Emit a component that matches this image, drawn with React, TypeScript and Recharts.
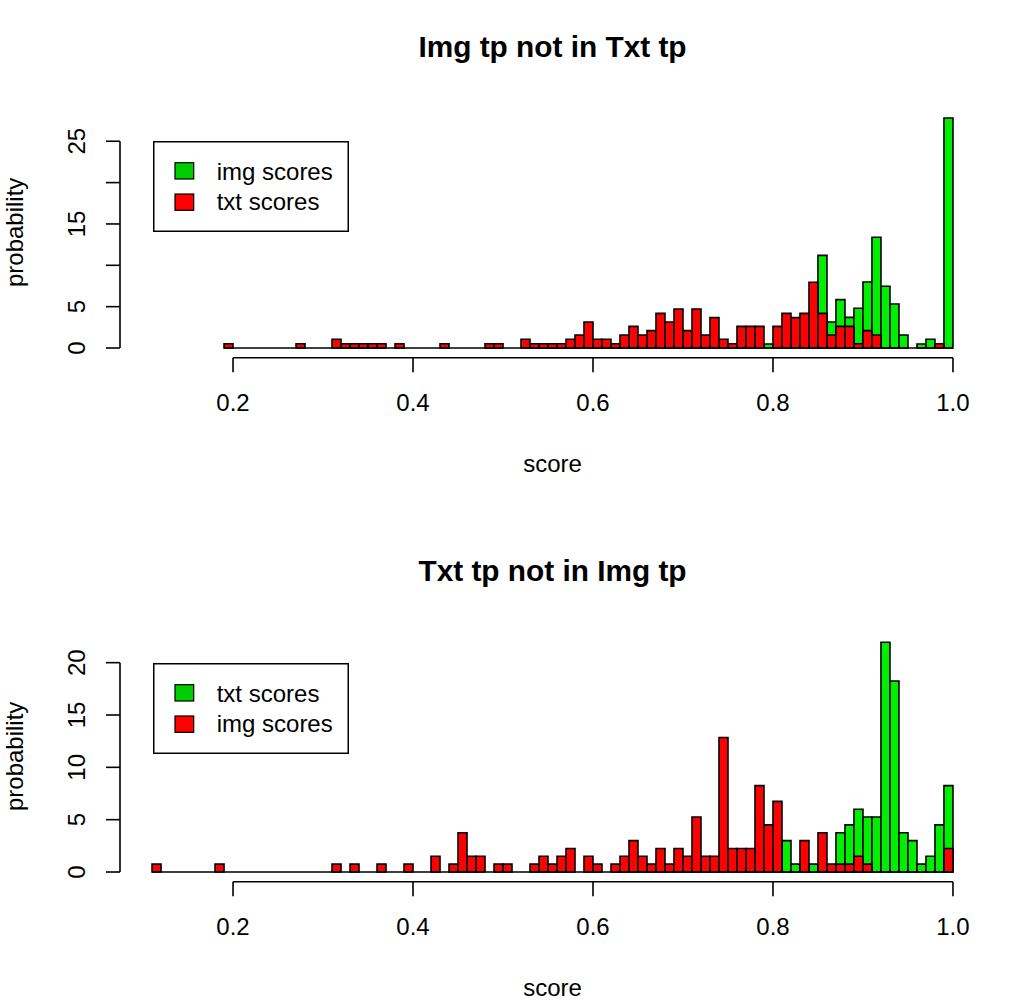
import { BarChart, Bar, XAxis, YAxis, ReferenceLine, Legend } from "recharts";

const FONT = '"Liberation Sans", Arial, Helvetica, sans-serif';

// left edge of every 0.01 wide histogram bin
const bins = [
  0.11, 0.12, 0.13, 0.14, 0.15, 0.16, 0.17, 0.18, 0.19, 0.2,
  0.21, 0.22, 0.23, 0.24, 0.25, 0.26, 0.27, 0.28, 0.29, 0.3,
  0.31, 0.32, 0.33, 0.34, 0.35, 0.36, 0.37, 0.38, 0.39, 0.4,
  0.41, 0.42, 0.43, 0.44, 0.45, 0.46, 0.47, 0.48, 0.49, 0.5,
  0.51, 0.52, 0.53, 0.54, 0.55, 0.56, 0.57, 0.58, 0.59, 0.6,
  0.61, 0.62, 0.63, 0.64, 0.65, 0.66, 0.67, 0.68, 0.69, 0.7,
  0.71, 0.72, 0.73, 0.74, 0.75, 0.76, 0.77, 0.78, 0.79, 0.8,
  0.81, 0.82, 0.83, 0.84, 0.85, 0.86, 0.87, 0.88, 0.89, 0.9,
  0.91, 0.92, 0.93, 0.94, 0.95, 0.96, 0.97, 0.98, 0.99,
];

// top panel: Img tp not in Txt tp
const topImgScores = [
  0, 0, 0, 0, 0, 0, 0, 0, 0, 0,
  0, 0, 0, 0, 0, 0, 0, 0, 0, 0,
  0, 0, 0, 0, 0, 0, 0, 0, 0, 0,
  0, 0, 0, 0, 0, 0, 0, 0, 0, 0,
  0, 0, 0, 0, 0, 0, 0, 0, 0, 0,
  0, 0, 0, 0, 0, 0, 0, 0, 0, 0,
  0, 0, 0, 0, 0, 0, 0, 0, 0.48, 0,
  0, 0, 0, 0, 11.2, 3.15, 5.85, 3.71, 4.8, 7.98,
  13.39, 7.46, 5.32, 1.57, 0, 0.48, 1.05, 0, 27.82,
];
const topTxtScores = [
  0, 0, 0, 0, 0, 0, 0, 0, 0.52, 0,
  0, 0, 0, 0, 0, 0, 0.52, 0, 0, 0,
  1.05, 0.52, 0.52, 0.52, 0.52, 0.52, 0, 0.52, 0, 0,
  0, 0, 0.52, 0, 0, 0, 0, 0.52, 0.52, 0,
  0, 1.05, 0.52, 0.52, 0.52, 0.52, 1.05, 1.57, 3.14, 1.05,
  1.05, 0.52, 1.57, 2.62, 1.57, 2.1, 4.19, 3.14, 4.72, 2.1,
  4.72, 1.57, 3.67, 1.05, 0.52, 2.62, 2.62, 2.62, 0, 2.62,
  4.19, 3.67, 4.19, 7.95, 4.19, 1.57, 2.62, 2.62, 0.52, 2.1,
  1.57, 0, 0, 0, 0, 0, 0, 0.52, 0,
];

// bottom panel: Txt tp not in Img tp
const bottomTxtScores = [
  0, 0, 0, 0, 0, 0, 0, 0, 0, 0,
  0, 0, 0, 0, 0, 0, 0, 0, 0, 0,
  0, 0, 0, 0, 0, 0, 0, 0, 0, 0,
  0, 0, 0, 0, 0, 0, 0, 0, 0, 0,
  0, 0, 0, 0, 0, 0, 0, 0, 0, 0,
  0, 0, 0, 0, 0, 0, 0, 0, 0, 0,
  0, 0, 0, 0, 0, 0, 0, 0, 0, 0,
  3.0, 0.75, 0, 0.75, 0, 0, 3.75, 4.5, 6.0, 5.25,
  5.25, 21.95, 18.25, 3.75, 3.0, 0.75, 1.5, 4.5, 8.25,
];
const bottomImgScores = [
  0.75, 0, 0, 0, 0, 0, 0, 0.75, 0, 0,
  0, 0, 0, 0, 0, 0, 0, 0, 0, 0,
  0.75, 0, 0.75, 0, 0, 0.75, 0, 0, 0.75, 0,
  0, 1.5, 0, 0.75, 3.75, 1.5, 1.5, 0, 0.75, 0.75,
  0, 0, 0.75, 1.5, 0.75, 1.5, 2.25, 0, 1.5, 0.75,
  0, 0.75, 1.5, 3.0, 1.5, 0.75, 2.25, 0.75, 2.25, 1.5,
  5.25, 1.5, 1.5, 12.85, 2.25, 2.25, 2.25, 8.25, 4.5, 6.75,
  0, 0, 3.0, 0, 3.75, 0.75, 0.75, 0.75, 1.5, 0.75,
  0, 0, 0, 0, 0, 0, 0, 0, 2.25,
];

const xTicks = [0.2, 0.4, 0.6, 0.8, 1.0];
const topYTicks = [0, 5, 10, 15, 20, 25];
const topYLabels = ["0", "5", "", "15", "", "25"];
const bottomYTicks = [0, 5, 10, 15, 20];
const bottomYLabels = ["0", "5", "10", "15", "20"];

const X_LIM = [0.11, 1.0];
const CHART_W = 1024;
const CHART_H = 500;
const AXIS_W = 120;
const RIGHT = 39;
const TOP = 96;
const X_AXIS_H = 142.3;
const LW = 1.6;

const BAR_GREEN = "#00ee00";
const KEY_GREEN = "#00cd00";
const RED = "#ff0000";

const makeYTick = (ticks: number[], labels: string[]) => (props: any) => {
  const { x, y, payload } = props;
  const label = labels[ticks.indexOf(payload.value)] ?? "";
  return (
    <text
      x={x}
      y={y}
      transform={`rotate(-90 ${x} ${y})`}
      textAnchor="middle"
      fill="#000"
      fontSize={24}
      fontFamily={FONT}
    >
      {label}
    </text>
  );
};

const YTitle = (props: any) => {
  const vb = props.viewBox;
  const cx = 23.5;
  const cy = vb.y + vb.height / 2 + 5.5;
  return (
    <text
      x={cx}
      y={cy}
      transform={`rotate(-90 ${cx} ${cy})`}
      textAnchor="middle"
      fill="#000"
      fontSize={24}
      fontFamily={FONT}
    >
      probability
    </text>
  );
};

const makeLegend = (names: string[]) => () => {
  const keys = [KEY_GREEN, RED];
  return (
    <svg width={196} height={91} style={{ display: "block" }}>
      <rect x={0.75} y={0.75} width={194.5} height={89.5} fill="#fff" stroke="#000" strokeWidth={1.5} />
      {names.map((n, i) => (
        <g key={n}>
          <rect
            x={22}
            y={21.7 + i * 31.3}
            width={18.7}
            height={16.3}
            fill={keys[i]}
            stroke="#000"
            strokeWidth={1.2}
          />
          <text x={63.7} y={39 + i * 29.8} fontSize={24} fontFamily={FONT} fill="#000">
            {n}
          </text>
        </g>
      ))}
    </svg>
  );
};

interface PanelProps {
  title: string;
  green: number[];
  red: number[];
  greenName: string;
  redName: string;
  yMax: number;
  yTicks: number[];
  yLabels: string[];
  histStart: number;
  legendTop: number;
  top: number;
}

function Panel(p: PanelProps) {
  const data = bins.map((bin, i) => ({ bin, green: p.green[i], red: p.red[i] }));
  const span = X_LIM[1] - X_LIM[0];
  const xLo = X_LIM[0] - 0.04 * span;
  const xHi = X_LIM[1] + 0.04 * span;
  const yLo = -0.04 * p.yMax;
  const yHi = 1.04 * p.yMax;
  const plotW = CHART_W - AXIS_W - RIGHT;
  const pad = (plotW * 0.04) / 1.08;
  const line = { stroke: "#000", strokeWidth: LW };

  return (
    <div style={{ position: "absolute", left: 0, top: p.top, width: CHART_W, height: CHART_H }}>
      <BarChart
        width={CHART_W}
        height={CHART_H}
        data={data}
        margin={{ top: TOP, right: RIGHT, bottom: 0, left: 0 }}
        barCategoryGap={0}
        barGap={0}
      >
        <XAxis xAxisId="g" dataKey="bin" hide height={0} padding={{ left: pad, right: pad }} />
        <XAxis xAxisId="r" dataKey="bin" hide height={0} padding={{ left: pad, right: pad }} />
        <XAxis
          xAxisId="num"
          type="number"
          dataKey="bin"
          domain={[xLo, xHi]}
          allowDataOverflow
          ticks={xTicks}
          interval={0}
          tickFormatter={(v: number) => v.toFixed(1)}
          height={X_AXIS_H}
          axisLine={false}
          tickLine={line}
          tickSize={14.5}
          tickMargin={22.2}
          tick={{ fill: "#000", fontSize: 24, fontFamily: FONT }}
          label={{
            value: "score",
            position: "insideBottom",
            offset: 28.3,
            fill: "#000",
            fontSize: 24,
            fontFamily: FONT,
          }}
        />
        <YAxis
          type="number"
          domain={[yLo, yHi]}
          allowDataOverflow
          ticks={p.yTicks}
          interval={0}
          width={AXIS_W}
          axisLine={false}
          tickLine={line}
          tickSize={14}
          tickMargin={21}
          tick={makeYTick(p.yTicks, p.yLabels)}
          label={{ content: YTitle }}
        />
        <Bar
          xAxisId="g"
          dataKey="green"
          name={p.greenName}
          fill={BAR_GREEN}
          stroke="#000"
          strokeWidth={LW}
          isAnimationActive={false}
        />
        <Bar
          xAxisId="r"
          dataKey="red"
          name={p.redName}
          fill={RED}
          stroke="#000"
          strokeWidth={LW}
          isAnimationActive={false}
        />
        <ReferenceLine
          xAxisId="num"
          ifOverflow="visible"
          segment={[
            { x: p.histStart, y: 0 },
            { x: X_LIM[1], y: 0 },
          ]}
          {...line}
        />
        <ReferenceLine
          xAxisId="num"
          ifOverflow="visible"
          segment={[
            { x: xTicks[0], y: yLo },
            { x: xTicks[xTicks.length - 1], y: yLo },
          ]}
          {...line}
        />
        <ReferenceLine
          xAxisId="num"
          ifOverflow="visible"
          segment={[
            { x: xLo, y: p.yTicks[0] },
            { x: xLo, y: p.yTicks[p.yTicks.length - 1] },
          ]}
          {...line}
        />
        <Legend
          layout="vertical"
          align="center"
          verticalAlign="middle"
          wrapperStyle={{ left: 153, top: p.legendTop, width: 196, height: 91 }}
          content={makeLegend([p.greenName, p.redName])}
        />
      </BarChart>
      <svg
        width={CHART_W}
        height={80}
        style={{ position: "absolute", left: 0, top: 0, pointerEvents: "none" }}
      >
        <text
          x={AXIS_W + plotW / 2}
          y={57.3}
          textAnchor="middle"
          fontSize={29.8}
          fontWeight="bold"
          fontFamily={FONT}
          fill="#000"
        >
          {p.title}
        </text>
      </svg>
    </div>
  );
}

export default function App() {
  return (
    <div
      style={{
        position: "absolute",
        left: 0,
        top: 0,
        width: 1024,
        height: 1000,
        background: "#fff",
        overflow: "hidden",
      }}
    >
      <Panel
        title="Img tp not in Txt tp"
        green={topImgScores}
        red={topTxtScores}
        greenName="img scores"
        redName="txt scores"
        yMax={29.3}
        yTicks={topYTicks}
        yLabels={topYLabels}
        histStart={0.19}
        legendTop={141}
        top={0}
      />
      <Panel
        title="Txt tp not in Img tp"
        green={bottomTxtScores}
        red={bottomImgScores}
        greenName="txt scores"
        redName="img scores"
        yMax={23.15}
        yTicks={bottomYTicks}
        yLabels={bottomYLabels}
        histStart={0.11}
        legendTop={138.7}
        top={524}
      />
    </div>
  );
}
